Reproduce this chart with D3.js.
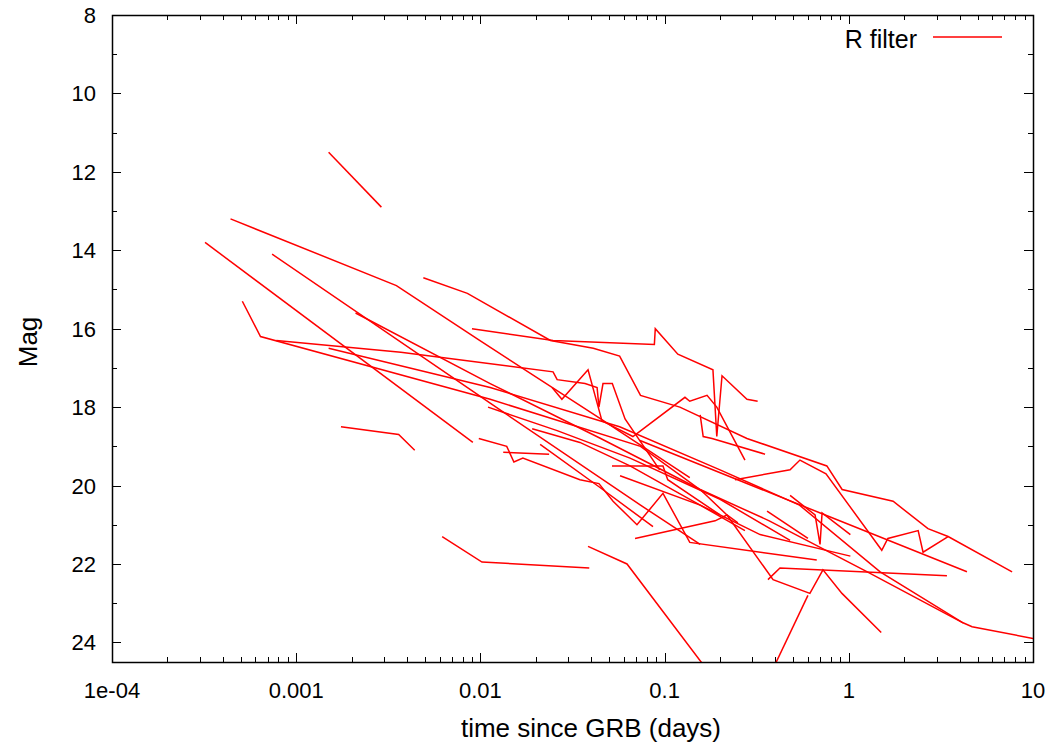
<!DOCTYPE html>
<html>
<head>
<meta charset="utf-8">
<script src="https://cdn.jsdelivr.net/npm/d3@7"></script>
<style>
  body { margin: 0; background: #fff; }
  text { font-family: "Liberation Sans", Arial, sans-serif; }
</style>
</head>
<body>
<div id="chart"></div>
<script>
// light curves, [time since GRB (days), R mag]
let lc01 = [[0.0015,11.5],[0.0029,12.9]];
let lc02 = [[0.00044,13.2],[0.0035,14.9],[0.0099,16.3],[0.045,18.3],[0.137,19.8]];
let lc03 = [[0.00032,13.8],[0.0091,18.9]];
let lc04 = [[0.00074,14.1],[0.0113,17.9],[0.074,20.5],[0.156,21.5]];
let lc05 = [[0.00051,15.3],[0.00064,16.2],[0.0113,17.8],[0.074,19.0],[0.166,20.2]];
let lc06 = [[0.00078,16.3],[0.0037,16.6],[0.0248,17.1],[0.0261,17.3],[0.037,17.4],[0.043,17.5],[0.044,18.0],[0.0463,17.4],[0.052,17.4],[0.061,18.3],[0.094,19.6]];
let lc07 = [[0.0015,16.5],[0.0113,17.5],[0.057,18.5],[0.2,19.6],[0.54,20.5],[1.48,22.2],[4.17,23.5],[4.67,23.6],[10,23.9]];
let lc08 = [[0.0021,15.6],[0.0113,17.4],[0.045,18.8],[0.156,20.1],[0.37,20.9],[1.26,22.2],[4.17,23.5]];
let lc09 = [[0.00175,18.5],[0.0036,18.7],[0.0044,19.1]];
let lc10 = [[0.0049,14.7],[0.0085,15.1],[0.024,16.3],[0.041,16.5],[0.057,16.7],[0.074,17.7],[0.121,18.0],[0.28,18.8],[0.76,19.5],[0.92,20.1],[1.74,20.4],[2.69,21.1],[3.46,21.3],[7.7,22.2]];
let lc11 = [[0.009,16.0],[0.0248,16.3],[0.088,16.4],[0.089,16.0],[0.118,16.65],[0.183,17.05],[0.192,18.75],[0.205,17.2],[0.28,17.8],[0.32,17.85]];
let lc12 = [[0.0098,18.8],[0.0139,19.0],[0.0152,19.4],[0.017,19.3],[0.0347,19.85],[0.044,19.95],[0.0525,20.4],[0.0708,21.0],[0.098,20.2],[0.137,21.45],[0.67,21.9]];
let lc13 = [[0.0133,19.15],[0.0236,19.2]];
let lc14 = [[0.0062,21.3],[0.0102,21.95],[0.039,22.1]];
let lc15 = [[0.0384,21.55],[0.0625,22.0],[0.19,25.0]];
let lc16 = [[0.32,25.5],[0.6,22.8]];
let lc17 = [[0.364,22.4],[0.423,22.1],[3.41,22.3]];
let lc18 = [[0.0735,18.85],[0.7,20.7],[4.38,22.2]];
let lc19 = [[0.241,19.85],[0.48,19.6],[0.543,19.35],[0.752,19.7],[1.51,21.65],[1.63,21.35],[2.38,21.15],[2.53,21.7],[3.46,21.3]];
let lc20 = [[0.011,18.0],[0.0261,18.6],[0.0649,19.3],[0.2,20.35],[0.48,21.4]];
let lc21 = [[0.0191,18.55],[0.0347,18.9],[0.0649,19.5],[0.156,20.5],[0.273,21.15]];
let lc22 = [[0.0518,19.5],[0.098,19.5],[0.104,19.85],[0.2,20.75]];
let lc23 = [[0.0245,17.5],[0.0277,17.8],[0.0384,17.05],[0.0457,18.35],[0.0673,18.75],[0.129,17.75],[0.137,17.85],[0.17,17.7],[0.192,18.0],[0.273,19.35]];
let lc24 = [[0.156,18.2],[0.162,18.75],[0.181,18.8],[0.351,19.2]];
let lc25 = [[0.36,20.65],[0.6,21.35]];
let lc26 = [[0.156,20.1],[0.218,20.75],[0.388,22.4],[0.615,22.75],[0.724,22.15],[0.918,22.75],[1.5,23.75]];
let lc27 = [[0.48,20.25],[0.656,20.75],[0.698,21.5],[0.716,20.7],[1.02,21.25]];
let lc28 = [[0.0573,19.75],[0.156,20.5],[0.33,21.25],[1.02,21.8]];
let lc29 = [[0.0211,18.95],[0.0446,20.05],[0.0865,21.05]];
let lc30 = [[0.0691,21.35],[0.188,20.9],[0.218,20.75],[0.25,20.95]];

let curves = [lc01,lc02,lc03,lc04,lc05,lc06,lc07,lc08,lc09,lc10,lc11,lc12,lc13,lc14,lc15,
  lc16,lc17,lc18,lc19,lc20,lc21,lc22,lc23,lc24,lc25,lc26,lc27,lc28,lc29,lc30];

let xTicks = [1e-4, 1e-3, 1e-2, 1e-1, 1, 10];
let xTickLabels = ["1e-04", "0.001", "0.01", "0.1", "1", "10"];
let yTicks = [8, 10, 12, 14, 16, 18, 20, 22, 24];

let w = 1055, h = 744;
let plotL = 112, plotR = 1033, plotT = 15, plotB = 662;

let svg = d3.select("#chart").append("svg")
  .attr("width", w)
  .attr("height", h);

let xScale = d3.scaleLog().domain([1e-4, 10]).range([plotL, plotR]);
let yScale = d3.scaleLinear().domain([8, 24.5]).range([plotT, plotB]);

svg.append("clipPath").attr("id", "plotclip")
  .append("rect")
  .attr("x", plotL).attr("y", plotT)
  .attr("width", plotR - plotL).attr("height", plotB - plotT);

// minor ticks
let minorX = [];
for (let e = -4; e < 1; e++) {
  for (let k = 2; k <= 9; k++) minorX.push(k * Math.pow(10, e));
}
let minorY = d3.range(9, 25, 2);

let tickG = svg.append("g").attr("stroke", "#000").attr("stroke-width", 1);
xTicks.forEach(function(t){
  let x = Math.round(xScale(t)) + 0.5;
  tickG.append("line").attr("x1", x).attr("x2", x).attr("y1", plotB).attr("y2", plotB - 9);
  tickG.append("line").attr("x1", x).attr("x2", x).attr("y1", plotT).attr("y2", plotT + 9);
});
minorX.forEach(function(t){
  let x = Math.round(xScale(t)) + 0.5;
  tickG.append("line").attr("x1", x).attr("x2", x).attr("y1", plotB).attr("y2", plotB - 5);
  tickG.append("line").attr("x1", x).attr("x2", x).attr("y1", plotT).attr("y2", plotT + 5);
});
yTicks.forEach(function(m){
  let y = Math.round(yScale(m)) + 0.5;
  tickG.append("line").attr("x1", plotL).attr("x2", plotL + 9).attr("y1", y).attr("y2", y);
  tickG.append("line").attr("x1", plotR).attr("x2", plotR - 9).attr("y1", y).attr("y2", y);
});
minorY.forEach(function(m){
  let y = Math.round(yScale(m)) + 0.5;
  tickG.append("line").attr("x1", plotL).attr("x2", plotL + 5).attr("y1", y).attr("y2", y);
  tickG.append("line").attr("x1", plotR).attr("x2", plotR - 5).attr("y1", y).attr("y2", y);
});

// curves
let lineMaker = d3.line()
  .x(function(d){ return xScale(d[0]); })
  .y(function(d){ return yScale(d[1]); });

svg.append("g")
  .attr("clip-path", "url(#plotclip)")
  .selectAll("path").data(curves).enter()
  .append("path")
  .attr("d", lineMaker)
  .attr("fill", "none")
  .attr("stroke", "#ff0000")
  .attr("stroke-width", 1.5)
  .attr("stroke-linejoin", "miter");

// frame
svg.append("rect")
  .attr("x", plotL + 0.5).attr("y", plotT + 0.5)
  .attr("width", plotR - plotL).attr("height", plotB - plotT)
  .attr("fill", "none").attr("stroke", "#000").attr("stroke-width", 1.5);

// tick labels
svg.selectAll(".xlab").data(xTicks).enter()
  .append("text")
  .attr("class", "xlab")
  .attr("x", function(d){ return xScale(d); })
  .attr("y", 698)
  .attr("text-anchor", "middle")
  .style("font-size", "22px")
  .text(function(d, i){ return xTickLabels[i]; });

svg.selectAll(".ylab").data(yTicks).enter()
  .append("text")
  .attr("class", "ylab")
  .attr("x", 96)
  .attr("y", function(d){ return yScale(d) + 8; })
  .attr("text-anchor", "end")
  .style("font-size", "22px")
  .text(function(d){ return d; });

// axis titles
svg.append("text")
  .attr("x", 591).attr("y", 737)
  .attr("text-anchor", "middle")
  .style("font-size", "26px")
  .text("time since GRB (days)");

svg.append("text")
  .attr("transform", "translate(37,342) rotate(-90)")
  .attr("text-anchor", "middle")
  .style("font-size", "26px")
  .text("Mag");

// legend
svg.append("text")
  .attr("x", 917).attr("y", 48)
  .attr("text-anchor", "end")
  .style("font-size", "25px")
  .text("R filter");
svg.append("line")
  .attr("x1", 933).attr("x2", 1002)
  .attr("y1", 37).attr("y2", 37)
  .attr("stroke", "#ff0000").attr("stroke-width", 1.5);
</script>
</body>
</html>
